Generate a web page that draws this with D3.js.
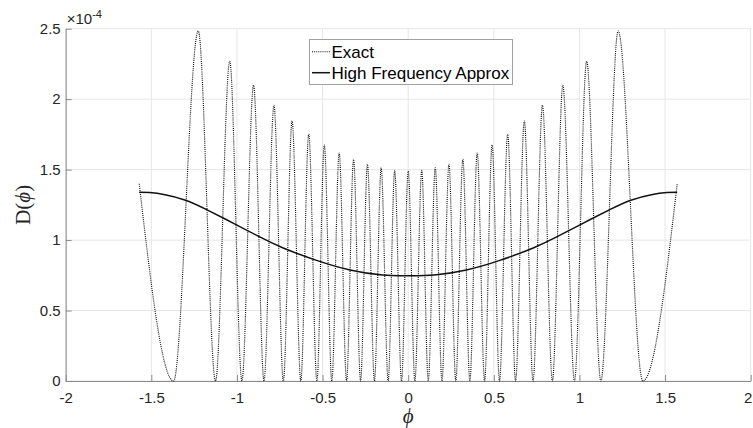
<!DOCTYPE html>
<html>
<head>
<meta charset="utf-8">
<script src="https://cdn.jsdelivr.net/npm/d3@7"></script>
<style>
  body { margin: 0; background: #fff; }
  svg { display: block; }
</style>
</head>
<body>
<svg id="chart" width="753" height="428"></svg>
<script>
// Axis ticks (y values are in units of 10^-4)
const xTicks = [-2, -1.5, -1, -0.5, 0, 0.5, 1, 1.5, 2];
const yTicks = [0, 0.5, 1, 1.5, 2, 2.5];
const yExponent = -4;
const seriesNames = ["Exact", "High Frequency Approx"];

// Exact D(phi): turning points (endpoints, zeros and lobe maxima), ×10^-4
const exactPhi = [
  -1.5708, -1.370, -1.226, -1.125, -1.042, -0.971, -0.903, -0.842, -0.784, -0.729,
  -0.678, -0.627, -0.581, -0.533, -0.490, -0.446, -0.403, -0.360, -0.319, -0.278,
  -0.238, -0.197, -0.158, -0.117, -0.079, -0.039, 0,
  0.039, 0.079, 0.117, 0.158, 0.197, 0.238, 0.278, 0.319, 0.360, 0.403,
  0.446, 0.490, 0.533, 0.581, 0.627, 0.678, 0.729, 0.784, 0.842, 0.903,
  0.971, 1.042, 1.125, 1.226, 1.370, 1.5708
];
const exactD = [
  1.40, 0, 2.484, 0, 2.269, 0, 2.099, 0, 1.957, 0,
  1.845, 0, 1.751, 0, 1.675, 0, 1.618, 0, 1.573, 0,
  1.538, 0, 1.512, 0, 1.495, 0, 1.489,
  0, 1.495, 0, 1.512, 0, 1.538, 0, 1.573, 0, 1.618,
  0, 1.675, 0, 1.751, 0, 1.845, 0, 1.957, 0, 2.099,
  0, 2.269, 0, 2.484, 0, 1.40
];

// High frequency approximation, ×10^-4
const approxPhi = [
  -1.5708, -1.51, -1.42, -1.30, -1.18, -1.02, -0.87, -0.73, -0.535, -0.34, -0.15,
  0,
  0.15, 0.34, 0.535, 0.73, 0.87, 1.02, 1.18, 1.30, 1.42, 1.51, 1.5708
];
const approxD = [
  1.339, 1.337, 1.322, 1.283, 1.218, 1.119, 1.024, 0.944, 0.856, 0.788, 0.752,
  0.747,
  0.752, 0.788, 0.856, 0.944, 1.024, 1.119, 1.218, 1.283, 1.322, 1.337, 1.339
];

const W = 753, H = 428;
const margin = { left: 65.7, right: 2.3, top: 28.7, bottom: 47 };
const svg = d3.select("#chart");

const x = d3.scaleLinear().domain([-2, 2]).range([margin.left, W - margin.right]);
const y = d3.scaleLinear().domain([0, 2.5]).range([H - margin.bottom, margin.top]);

const axisColor = "#8a8a8a";
const textColor = "#262626";
const gridColor = "#e6e6e6";
const sansFont = "'Liberation Sans', Arial, Helvetica, sans-serif";
const serifFont = "'Liberation Serif', 'DejaVu Serif', 'Times New Roman', serif";

// Grid
const grid = svg.append("g").attr("stroke", gridColor).attr("stroke-width", 1);
grid.selectAll("line.gx").data(xTicks).join("line")
  .attr("x1", d => x(d)).attr("x2", d => x(d))
  .attr("y1", y(0)).attr("y2", y(2.5));
grid.selectAll("line.gy").data(yTicks).join("line")
  .attr("x1", x(-2)).attr("x2", x(2))
  .attr("y1", d => y(d)).attr("y2", d => y(d));

// Axes with inward ticks
const fmt = d => String(d);
const xAxis = svg.append("g")
  .attr("transform", `translate(0,${y(0)})`)
  .call(d3.axisBottom(x).tickValues(xTicks).tickFormat(fmt)
    .tickSizeInner(-6).tickSizeOuter(0).tickPadding(11));
const yAxis = svg.append("g")
  .attr("transform", `translate(${x(-2)},0)`)
  .call(d3.axisLeft(y).tickValues(yTicks).tickFormat(fmt)
    .tickSizeInner(-6).tickSizeOuter(0).tickPadding(5));
[xAxis, yAxis].forEach(g => {
  g.selectAll("path.domain").attr("stroke", axisColor);
  g.selectAll(".tick line").attr("stroke", axisColor);
  g.selectAll(".tick text").attr("fill", textColor)
    .style("font-family", sansFont).style("font-size", "15px");
});
// keep the last x label inside the window
xAxis.selectAll(".tick text").filter(d => d === 2).attr("dx", -3);

// Exponent label
const expLabel = svg.append("text")
  .attr("x", x(-2) + 1).attr("y", 24)
  .attr("fill", textColor)
  .style("font-family", sansFont).style("font-size", "15px");
expLabel.append("tspan").text("×10");
expLabel.append("tspan").attr("dy", -6).style("font-size", "11px").text(String(yExponent));

// Axis titles
const yTitle = svg.append("text")
  .attr("transform", `translate(30,${(y(0) + y(2.5)) / 2}) rotate(-90)`)
  .attr("text-anchor", "middle")
  .attr("fill", textColor)
  .style("font-family", serifFont).style("font-size", "21px");
yTitle.append("tspan").text("D(");
yTitle.append("tspan").style("font-style", "italic").text("ϕ");
yTitle.append("tspan").text(")");

svg.append("text")
  .attr("x", x(0)).attr("y", 423)
  .attr("text-anchor", "middle")
  .attr("fill", textColor)
  .style("font-family", serifFont).style("font-size", "21px").style("font-style", "italic")
  .text("ϕ");

// Curves
const exactLine = d3.line().x(d => x(d[0])).y(d => y(d[1])).curve(d3.curveMonotoneX);
const approxLine = d3.line().x(d => x(d[0])).y(d => y(d[1])).curve(d3.curveNatural);
const exactData = d3.zip(exactPhi, exactD);
const approxData = d3.zip(approxPhi, approxD);

const dotted = "1,1.1";
svg.append("path").datum(exactData)
  .attr("d", exactLine)
  .attr("fill", "none").attr("stroke", "#111").attr("stroke-width", 1.15)
  .attr("stroke-dasharray", dotted);

svg.append("path").datum(approxData)
  .attr("d", approxLine)
  .attr("fill", "none").attr("stroke", "#111").attr("stroke-width", 1.5);

// Legend
const legend = svg.append("g");
legend.append("rect")
  .attr("x", 309.5).attr("y", 39.5).attr("width", 203).attr("height", 45)
  .attr("fill", "#fff").attr("stroke", "#a0a0a0").attr("stroke-width", 1);
const legendRows = [
  { name: seriesNames[0], cy: 51.7, dash: dotted, w: 1.15 },
  { name: seriesNames[1], cy: 72.7, dash: null, w: 1.5 }
];
legendRows.forEach(r => {
  legend.append("line")
    .attr("x1", 312).attr("x2", 330).attr("y1", r.cy).attr("y2", r.cy)
    .attr("stroke", "#111").attr("stroke-width", r.w)
    .attr("stroke-dasharray", r.dash);
  legend.append("text")
    .attr("x", 331.5).attr("y", r.cy + 6.3)
    .attr("fill", "#000")
    .style("font-family", sansFont).style("font-size", "17px")
    .text(r.name);
});
</script>
</body>
</html>
